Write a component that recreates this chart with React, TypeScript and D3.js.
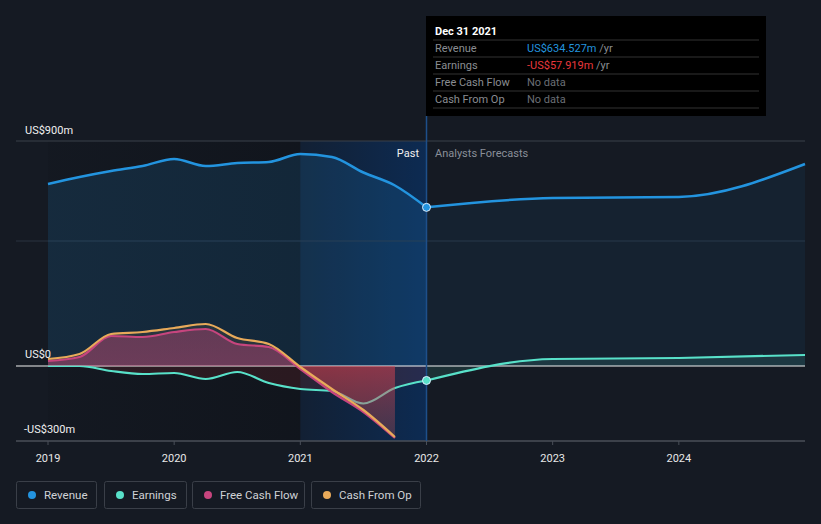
import React from "react";
import * as d3 from "d3";

const pastDates = [2019, 2019.25, 2019.5, 2019.75, 2020, 2020.25, 2020.5, 2020.75, 2021, 2021.25, 2021.5, 2021.75, 2022];
const revenuePast = [728, 756, 780, 800, 828, 800, 812, 816, 848, 836, 774, 722, 634.527];
const earningsPast = [0, 0, -20, -32, -28, -52, -24, -68, -92, -100, -150, -88, -57.919];
const cashDates = [2019, 2019.25, 2019.5, 2019.75, 2020, 2020.25, 2020.5, 2020.75, 2021, 2021.25, 2021.5, 2021.75];
const cashFromOp = [28, 48, 128, 136, 152, 168, 112, 88, -4, -92, -176, -284];
const freeCashFlow = [20, 36, 120, 116, 136, 148, 88, 76, -12, -104, -184, -288];
const forecastDates = [2022, 2023, 2024, 2025];
const revenueForecast = [634.527, 672, 676, 808];
const earningsForecast = [-57.919, 28, 32, 44];
const yearTicks = [2019, 2020, 2021, 2022, 2023, 2024];
const legendItems = ["Revenue", "Earnings", "Free Cash Flow", "Cash From Op"];

const C = {
  bg: "#151a23",
  rev: "#2394df",
  earn: "#58e1c9",
  fcf: "#c7457e",
  cfo: "#e8aa5a",
  neg: "#e8383d",
};

export default function App() {
  const x = d3.scaleLinear().domain([2019, 2025]).range([48, 805]);
  const y = d3.scaleLinear().domain([-300, 900]).range([441, 141]);
  const pts = (ds: number[], vs: number[]) => ds.map((d, i) => [d, vs[i]] as [number, number]);
  const line = d3.line<[number, number]>().x(d => x(d[0])).y(d => y(d[1])).curve(d3.curveMonotoneX);
  const area = d3.area<[number, number]>().x(d => x(d[0])).y0(y(0)).y1(d => y(d[1])).curve(d3.curveMonotoneX);

  const revP = pts(pastDates, revenuePast);
  const revF = pts(forecastDates, revenueForecast);
  const earnP = pts(pastDates, earningsPast);
  const earnF = pts(forecastDates, earningsForecast);
  const cfo = pts(cashDates, cashFromOp);
  const fcf = pts(cashDates, freeCashFlow);
  const xNow = x(2022);
  const font = "Roboto, 'Open Sans', sans-serif";
  const legendColors = [C.rev, C.earn, C.fcf, C.cfo];
  const legendX = [16, 104, 192, 311];
  const legendW = [80, 82, 112, 109];
  const zeroOff = (y(170) - y(0)) / (y(170) - y(-290));

  const rows = [
    { label: "Revenue", value: "US$634.527m", color: C.rev, suffix: " /yr" },
    { label: "Earnings", value: "-US$57.919m", color: C.neg, suffix: " /yr" },
    { label: "Free Cash Flow", value: "No data", color: "#6b6f76", suffix: "" },
    { label: "Cash From Op", value: "No data", color: "#6b6f76", suffix: "" },
  ];

  return (
    <svg width={821} height={524} style={{ position: "absolute", left: 0, top: 0, background: C.bg }} fontFamily={font}>
      <defs>
        <linearGradient id="hl" x1="0" x2="1" y1="0" y2="0">
          <stop offset="0" stopColor="#004499" stopOpacity={0.14} />
          <stop offset="1" stopColor="#004499" stopOpacity={0.4} />
        </linearGradient>
        <linearGradient id="dk" x1="0" x2="1" y1="0" y2="0">
          <stop offset="0" stopColor="#05070b" stopOpacity={0.08} />
          <stop offset="1" stopColor="#05070b" stopOpacity={0.26} />
        </linearGradient>
        <linearGradient id="fcfg" gradientUnits="userSpaceOnUse" x1="0" x2="0" y1={y(170)} y2={y(-290)}>
          <stop offset="0" stopColor={C.fcf} stopOpacity={0.36} />
          <stop offset={zeroOff} stopColor={C.fcf} stopOpacity={0.42} />
          <stop offset={zeroOff} stopColor="#d8384e" stopOpacity={0.5} />
          <stop offset="1" stopColor="#b03a5a" stopOpacity={0.2} />
        </linearGradient>
      </defs>
      <rect x={0} y={0} width={821} height={524} fill={C.bg} />
      <rect x={x(2019)} y={y(900)} width={x(2021) - x(2019)} height={y(-300) - y(900)} fill="url(#dk)" />
      <rect x={x(2021)} y={y(900)} width={xNow - x(2021)} height={y(-300) - y(900)} fill="url(#hl)" />

      <line x1={16} x2={805} y1={y(900)} y2={y(900)} stroke="#3a404b" strokeWidth={1} />
      <line x1={16} x2={805} y1={y(500)} y2={y(500)} stroke="#2a3340" strokeWidth={1} />

      <path d={area(revP) || ""} fill={C.rev} fillOpacity={0.15} />
      <path d={area(revF) || ""} fill={C.rev} fillOpacity={0.07} />
      <path d={area(earnP) || ""} fill={C.neg} fillOpacity={0.12} />
      <path d={area(earnF) || ""} fill={C.earn} fillOpacity={0.12} />

      <line x1={16} x2={805} y1={y(0)} y2={y(0)} stroke="#f2f2f2" strokeWidth={1} />
      <line x1={16} x2={805} y1={y(-300)} y2={y(-300)} stroke="#4a4f58" strokeWidth={1.5} />
      {yearTicks.map(t => (
        <g key={t}>
          <line x1={x(t)} x2={x(t)} y1={y(-300)} y2={y(-300) + 4} stroke="#4a4f58" />
          <text x={x(t)} y={462} textAnchor="middle" fontSize={11} fill="#e8e8e8">{t}</text>
        </g>
      ))}

      <path d={line(earnP) || ""} fill="none" stroke={C.earn} strokeWidth={2.2} />
      <path d={line(earnF) || ""} fill="none" stroke={C.earn} strokeWidth={2.2} />
      <path d={area(cfo) || ""} fill={C.cfo} fillOpacity={0.1} />
      <path d={area(fcf) || ""} fill="url(#fcfg)" />
      <path d={line(fcf) || ""} fill="none" stroke={C.fcf} strokeWidth={2.2} />
      <path d={line(cfo) || ""} fill="none" stroke={C.cfo} strokeWidth={2.2} />
      <path d={line(revP) || ""} fill="none" stroke={C.rev} strokeWidth={2.5} />
      <path d={line(revF) || ""} fill="none" stroke={C.rev} strokeWidth={2.5} />

      <line x1={xNow} x2={xNow} y1={116} y2={y(-300)} stroke="#1e4f8a" strokeWidth={1.5} />
      <circle cx={xNow} cy={y(634.527)} r={4} fill={C.rev} stroke="#dfefff" strokeWidth={1} />
      <circle cx={xNow} cy={y(-57.919)} r={4} fill={C.earn} stroke="#dfefff" strokeWidth={1} />

      <text x={25} y={134} fontSize={11} fill="#f0f0f0">US$900m</text>
      <text x={25} y={358} fontSize={11} fill="#f0f0f0">US$0</text>
      <text x={24} y={433} fontSize={11} fill="#f0f0f0">-US$300m</text>
      <text x={419} y={157} fontSize={11} fill="#f0f0f0" textAnchor="end">Past</text>
      <text x={435} y={157} fontSize={11} fill="#8a8f99">Analysts Forecasts</text>

      <g>
        <rect x={426} y={16} width={340} height={100} fill="#000" />
        <text x={435} y={35} fontSize={11} fontWeight="bold" fill="#fff">Dec 31 2021</text>
        {rows.map((r, i) => (
          <g key={r.label}>
            <line x1={433} x2={759} y1={40 + i * 17} y2={40 + i * 17} stroke="#333" />
            <text x={435} y={52 + i * 17} fontSize={11} fill="#8a8d92">{r.label}</text>
            <text x={527} y={52 + i * 17} fontSize={11} fill={r.color}>
              {r.value}
              <tspan fill="#8a8d92">{r.suffix}</tspan>
            </text>
          </g>
        ))}
        <line x1={433} x2={759} y1={108} y2={108} stroke="#333" />
      </g>

      {legendItems.map((name, i) => (
        <g key={name}>
          <rect x={legendX[i] + 0.5} y={481.5} width={legendW[i]} height={27} rx={2} fill="none" stroke="#3a3f48" />
          <circle cx={legendX[i] + 16} cy={495} r={4} fill={legendColors[i]} />
          <text x={legendX[i] + 28} y={499} fontSize={11.5} fill="#d0d2d6">{name}</text>
        </g>
      ))}
    </svg>
  );
}
